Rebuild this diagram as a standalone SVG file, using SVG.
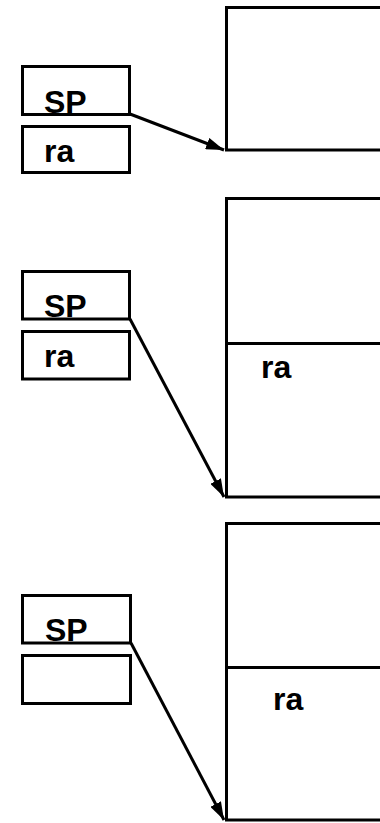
<svg xmlns="http://www.w3.org/2000/svg" width="380" height="823" viewBox="0 0 380 823">
<style>
.box{fill:#fff;stroke:#000;stroke-width:3}
.ln{fill:none;stroke:#000;stroke-width:3}
.t{font-family:"Liberation Sans",Arial,sans-serif;font-weight:bold;font-size:32px;fill:#000}
.c{stroke:#000;stroke-width:3;fill:none;marker-end:url(#ah)}
</style>
<defs>
<marker id="ah" markerUnits="userSpaceOnUse" markerWidth="20" markerHeight="12" refX="18" refY="6" orient="auto">
<path d="M0,0 L18,6 L0,12 Z" fill="#000"/>
</marker>
</defs>
<rect width="380" height="823" fill="#fff"/>
<g id="stack1">
<rect class="box" x="226.5" y="7.5" width="170" height="142.5"/>
</g>
<g id="sp1">
<rect class="box" x="22.5" y="66.5" width="107" height="48"/>
<text class="t" x="44" y="113">SP</text>
</g>
<g id="ra1">
<rect class="box" x="22.5" y="126.5" width="107" height="46"/>
<text class="t" x="44" y="162">ra</text>
</g>
<g id="stack2">
<rect class="box" x="226.5" y="198.5" width="170" height="298.5"/>
<line class="ln" x1="226.5" y1="343.5" x2="390" y2="343.5"/>
<text class="t" x="261" y="378">ra</text>
</g>
<g id="sp2">
<rect class="box" x="22.5" y="271.5" width="107" height="47.5"/>
<text class="t" x="44" y="317">SP</text>
</g>
<g id="ra2">
<rect class="box" x="22.5" y="331.5" width="107" height="47.5"/>
<text class="t" x="44" y="367">ra</text>
</g>
<g id="stack3">
<rect class="box" x="226.5" y="523.5" width="170" height="296.5"/>
<line class="ln" x1="226.5" y1="667.5" x2="390" y2="667.5"/>
<text class="t" x="273" y="710">ra</text>
</g>
<g id="sp3">
<rect class="box" x="22.5" y="595.5" width="108" height="47.5"/>
<text class="t" x="45" y="641">SP</text>
</g>
<g id="empty3">
<rect class="box" x="22.5" y="655.5" width="108" height="48"/>
</g>
<g id="connectors">
<line class="c" x1="130" y1="114" x2="224" y2="150"/>
<line class="c" x1="130" y1="319" x2="224" y2="497"/>
<line class="c" x1="131" y1="643" x2="224" y2="820"/>
</g>
</svg>
